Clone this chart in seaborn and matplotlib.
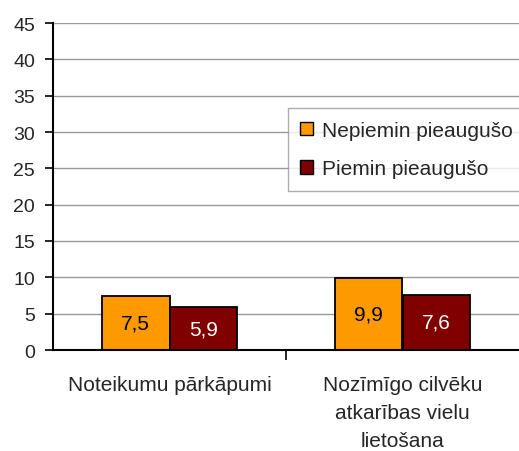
import pandas as pd
import seaborn as sns
import matplotlib.pyplot as plt
from matplotlib.ticker import FixedLocator

# chart data
categories = ['Noteikumu pārkāpumi', 'Nozīmīgo cilvēku\natkarības vielu\nlietošana']
series = ['Nepiemin pieaugušo', 'Piemin pieaugušo']
nepiemin = [7.5, 9.9]
piemin = [5.9, 7.6]
colors = ['#FF9900', '#800000']
label_colors = ['black', 'white']

df = pd.DataFrame({
    'kategorija': categories * 2,
    'grupa': [series[0]] * 2 + [series[1]] * 2,
    'vertiba': nepiemin + piemin,
})

sns.set_style('white')
plt.rcParams['font.family'] = ['Liberation Sans', 'DejaVu Sans']

fig = plt.figure(figsize=(5.19, 4.52), dpi=100)
ax = fig.add_axes([53 / 519, 1 - 351 / 452, 466 / 519, 327 / 452])

sns.barplot(data=df, x='kategorija', y='vertiba', hue='grupa', palette=colors,
            width=0.58, edgecolor='black', linewidth=1.3, saturation=1, ax=ax)

# value labels inside bars
for cont, c in zip(ax.containers, label_colors):
    ax.bar_label(cont, labels=[f'{v:.1f}'.replace('.', ',') for v in cont.datavalues],
                 label_type='center', color=c, fontsize=15)

ax.set_xlim(-0.5, 1.5)
ax.set_ylim(0, 45)
ax.set_yticks(range(0, 46, 5))
ax.yaxis.grid(True, color='#999999', linewidth=1)
ax.set_axisbelow(True)
ax.set_xlabel('')
ax.set_ylabel('')

for s in ['top', 'right']:
    ax.spines[s].set_visible(False)
for s in ['left', 'bottom']:
    ax.spines[s].set_color('black')
    ax.spines[s].set_linewidth(1.5)

ax.tick_params(axis='y', direction='out', length=6, width=1.2, color='black',
               labelsize=14, pad=7, left=True)
ax.tick_params(axis='x', which='major', length=0, labelsize=15, pad=18)
ax.xaxis.set_minor_locator(FixedLocator([0.5]))
ax.tick_params(axis='x', which='minor', length=7, width=1.2, color='black', bottom=True)
for t in ax.get_xticklabels():
    t.set_linespacing(1.6)
    t.set_va('top')

leg = ax.legend(loc='upper left', bbox_to_anchor=(0.504, 0.74), fontsize=15,
                frameon=True, fancybox=False, edgecolor='#999999',
                handlelength=0.6, handleheight=0.6, handletextpad=0.45,
                labelspacing=0.95, borderpad=0.6, borderaxespad=0)
leg.get_frame().set_linewidth(1)
for h in leg.legend_handles:
    h.set_edgecolor('black')
    h.set_linewidth(1)

fig.savefig('out.png', dpi=100)
